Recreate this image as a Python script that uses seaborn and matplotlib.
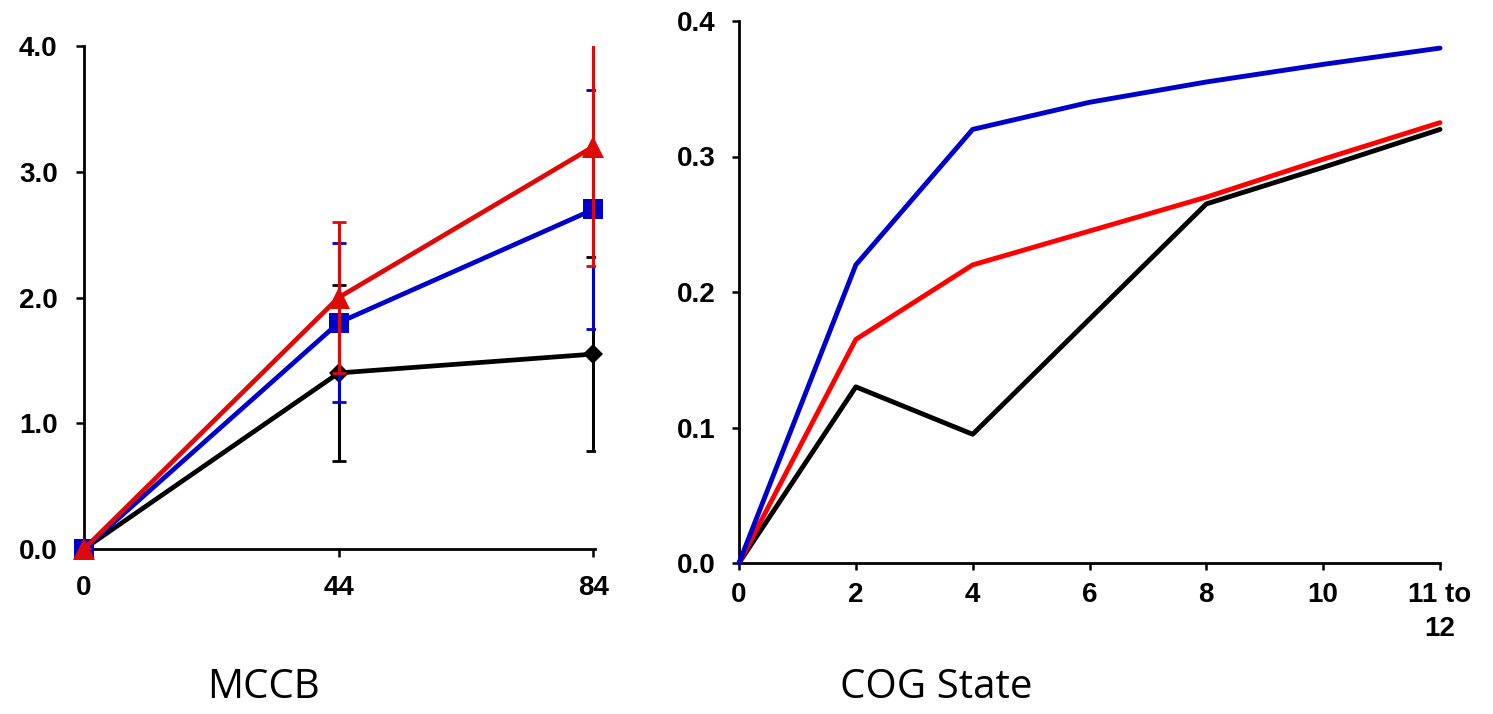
import numpy as np
import pandas as pd
import matplotlib
matplotlib.use("Agg")
import matplotlib.pyplot as plt
import seaborn as sns

####################################
# 데이터
####################################

# MCCB 패널
mccb_x = ["0", "44", "84"]
mccb_black = [0.0, 1.40, 1.55]
mccb_black_err = [0.0, 0.70, 0.77]
mccb_blue = [0.0, 1.80, 2.70]
mccb_blue_err = [0.0, 0.63, 0.95]
mccb_red = [0.0, 2.00, 3.20]
mccb_red_err = [0.0, 0.60, 0.95]
mccb_yticks = [0.0, 1.0, 2.0, 3.0, 4.0]

# COG State 패널
cog_x = ["0", "2", "4", "6", "8", "10", "11 to\n12"]
cog_black = [0.0, 0.130, 0.095, 0.180, 0.265, 0.292, 0.320]
cog_red = [0.0, 0.165, 0.220, 0.245, 0.270, 0.298, 0.325]
cog_blue = [0.0, 0.220, 0.320, 0.340, 0.355, 0.368, 0.380]
cog_yticks = [0.0, 0.1, 0.2, 0.3, 0.4]

panel_titles = ["MCCB", "COG State"]

####################################
# 스타일
####################################

sns.set_style("ticks")
plt.rcParams['font.family'] = ['Liberation Sans', 'DejaVu Sans']
plt.rcParams['text.color'] = 'black'
plt.rcParams['xtick.color'] = 'black'
plt.rcParams['ytick.color'] = 'black'

tick_font = dict(family='Liberation Sans', weight='bold', size=20, color='black')
title_font = dict(family=['Open Sans', 'DejaVu Sans'], size=29, color='black')

fig = plt.figure(figsize=(14.93, 7.14), dpi=100)
ax1 = fig.add_axes([84 / 1493, 1 - 549 / 714, 511 / 1493, 503 / 714])
ax2 = fig.add_axes([739 / 1493, 1 - 563 / 714, 701 / 1493, 542 / 714])

####################################
# 1. MCCB (오차막대 포함)
####################################

pos1 = np.arange(len(mccb_x))
mccb_series = [
    ("black", mccb_black, mccb_black_err, "#000000", "D", 10),
    ("blue", mccb_blue, mccb_blue_err, "#0000CC", "s", 15),
    ("red", mccb_red, mccb_red_err, "#DD0A0A", "^", 16),
]

for i, (name, vals, errs, color, marker, ms) in enumerate(mccb_series):
    ax1.errorbar(pos1, vals, yerr=errs, fmt='none', ecolor=color,
                 elinewidth=2.2, capsize=5, capthick=2, zorder=3 + 2 * i)
    df = pd.DataFrame({'pos': pos1, 'value': vals})
    sns.lineplot(data=df, x='pos', y='value', ax=ax1, color=color,
                 marker=marker, markersize=ms, markeredgewidth=0,
                 linewidth=3.4, clip_on=False, zorder=4 + 2 * i)

# 오른쪽 끝 오차막대가 반쯤 잘리지 않도록 아주 조금 여유
ax1.set_xlim(0, len(mccb_x) - 1 + 0.006)
ax1.set_ylim(0, 4.0)
ax1.set_xticks(pos1)
ax1.set_xticklabels(mccb_x, **tick_font)
ax1.set_yticks(mccb_yticks)
ax1.set_yticklabels([f"{v:.1f}" for v in mccb_yticks], **tick_font)
ax1.tick_params(axis='y', length=6, width=1.8, pad=13)
ax1.tick_params(axis='x', length=6, width=1.8, pad=13)

####################################
# 2. COG State
####################################

pos2 = np.arange(len(cog_x))
cog_series = [
    ("black", cog_black, "#000000"),
    ("red", cog_red, "#FF0000"),
    ("blue", cog_blue, "#0000CC"),
]

for i, (name, vals, color) in enumerate(cog_series):
    df = pd.DataFrame({'pos': pos2, 'value': vals})
    sns.lineplot(data=df, x='pos', y='value', ax=ax2, color=color,
                 linewidth=3.5, clip_on=False, zorder=3 + i)

ax2.set_xlim(0, len(cog_x) - 1)
ax2.set_ylim(0, 0.4)
ax2.set_xticks(pos2)
ax2.set_xticklabels(cog_x, linespacing=1.4, **tick_font)
ax2.set_yticks(cog_yticks)
ax2.set_yticklabels([f"{v:.1f}" for v in cog_yticks], **tick_font)
ax2.tick_params(axis='y', length=5, width=1.8, pad=12)
ax2.tick_params(axis='x', length=5, width=1.8, pad=9)

for ax in (ax1, ax2):
    sns.despine(ax=ax)
    for side in ('left', 'bottom'):
        ax.spines[side].set_linewidth(2)
        ax.spines[side].set_color('black')
    ax.set_xlabel('')
    ax.set_ylabel('')

# 패널 제목 (아래쪽)
fig.text(263 / 1493, 1 - 688 / 714, panel_titles[0], ha='center', va='center', **title_font)
fig.text(936 / 1493, 1 - 688 / 714, panel_titles[1], ha='center', va='center', **title_font)

plt.savefig("out.png", dpi=100)
